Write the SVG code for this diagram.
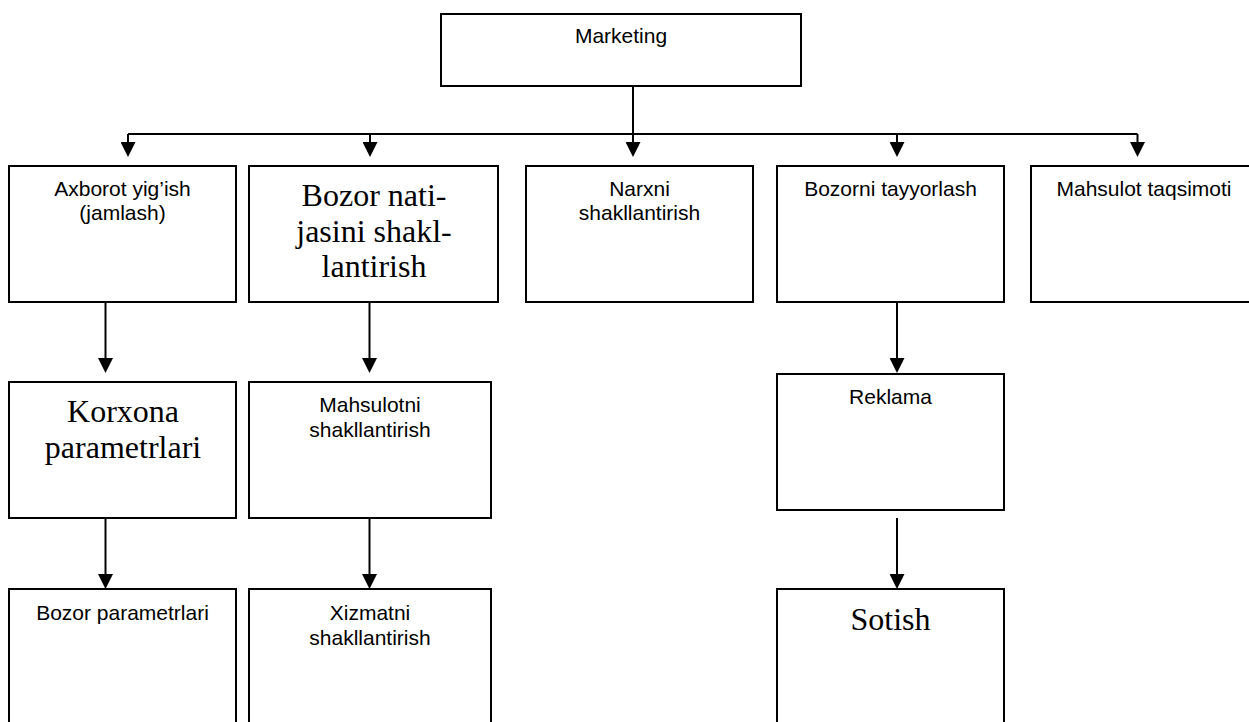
<svg xmlns="http://www.w3.org/2000/svg" width="1249" height="722" viewBox="0 0 1249 722">
  <style>
    .box { fill: #fff; stroke: #000; stroke-width: 2; }
    .wire { fill: none; stroke: #000; stroke-width: 2; }
    .head { fill: #000; }
    .sans { font-family: "Liberation Sans", Arial, sans-serif; font-size: 21px; fill: #000; text-anchor: middle; }
    .serif { font-family: "Liberation Serif", "Times New Roman", serif; font-size: 32px; fill: #000; text-anchor: middle; }
  </style>
  <defs>
    <marker id="arrow" viewBox="0 0 15 15" refX="0" refY="7.5" markerWidth="15" markerHeight="15" markerUnits="userSpaceOnUse" orient="auto">
      <path class="head" d="M0,0 L15,7.5 L0,15 Z"/>
    </marker>
  </defs>
  <rect width="1249" height="722" fill="#fff"/>

  <!-- connectors -->
  <g id="connectors">
    <path class="wire" d="M633,86 V142" marker-end="url(#arrow)"/>
    <path class="wire" d="M128,134 H1137.5"/>
    <path class="wire" d="M128,134 V142" marker-end="url(#arrow)"/>
    <path class="wire" d="M370,134 V142" marker-end="url(#arrow)"/>
    <path class="wire" d="M897,134 V142" marker-end="url(#arrow)"/>
    <path class="wire" d="M1137.5,134 V142" marker-end="url(#arrow)"/>
    <path class="wire" d="M105.5,302 V358" marker-end="url(#arrow)"/>
    <path class="wire" d="M105.5,518 V574" marker-end="url(#arrow)"/>
    <path class="wire" d="M369.5,302 V358" marker-end="url(#arrow)"/>
    <path class="wire" d="M369.5,518 V574" marker-end="url(#arrow)"/>
    <path class="wire" d="M897,302 V358" marker-end="url(#arrow)"/>
    <path class="wire" d="M897,518 V574" marker-end="url(#arrow)"/>
  </g>

  <g id="marketing">
    <rect class="box" x="441" y="14" width="360" height="72"/>
    <text class="sans" x="621" y="43">Marketing</text>
  </g>

  <g id="axborot">
    <rect class="box" x="9" y="166" width="227" height="136"/>
    <text class="sans" x="122.5" y="196">Axborot yig’ish</text>
    <text class="sans" x="122.5" y="219.5">(jamlash)</text>
  </g>

  <g id="bozor-natija">
    <rect class="box" x="249" y="166" width="249" height="136"/>
    <text class="serif" x="374" y="206">Bozor nati-</text>
    <text class="serif" x="374" y="241.5">jasini shakl-</text>
    <text class="serif" x="374" y="277">lantirish</text>
  </g>

  <g id="narx">
    <rect class="box" x="526" y="166" width="227" height="136"/>
    <text class="sans" x="639.5" y="196">Narxni</text>
    <text class="sans" x="639.5" y="220">shakllantirish</text>
  </g>

  <g id="bozor-tayyorlash">
    <rect class="box" x="777" y="166" width="227" height="136"/>
    <text class="sans" x="890.5" y="196">Bozorni tayyorlash</text>
  </g>

  <g id="taqsimot">
    <rect class="box" x="1031" y="166" width="227" height="136"/>
    <text class="sans" x="1144" y="196">Mahsulot taqsimoti</text>
  </g>

  <g id="korxona">
    <rect class="box" x="9" y="382" width="227" height="136"/>
    <text class="serif" x="123" y="422">Korxona</text>
    <text class="serif" x="123" y="458">parametrlari</text>
  </g>

  <g id="mahsulot">
    <rect class="box" x="249" y="382" width="242" height="136"/>
    <text class="sans" x="370" y="412">Mahsulotni</text>
    <text class="sans" x="370" y="436.5">shakllantirish</text>
  </g>

  <g id="reklama">
    <rect class="box" x="777" y="374" width="227" height="136"/>
    <text class="sans" x="890.5" y="403.5">Reklama</text>
  </g>

  <g id="bozor-parametr">
    <rect class="box" x="9" y="589" width="227" height="160"/>
    <text class="sans" x="122.5" y="620">Bozor parametrlari</text>
  </g>

  <g id="xizmat">
    <rect class="box" x="249" y="589" width="242" height="160"/>
    <text class="sans" x="370" y="620">Xizmatni</text>
    <text class="sans" x="370" y="645">shakllantirish</text>
  </g>

  <g id="sotish">
    <rect class="box" x="777" y="589" width="227" height="160"/>
    <text class="serif" x="890.5" y="629.5">Sotish</text>
  </g>
</svg>
